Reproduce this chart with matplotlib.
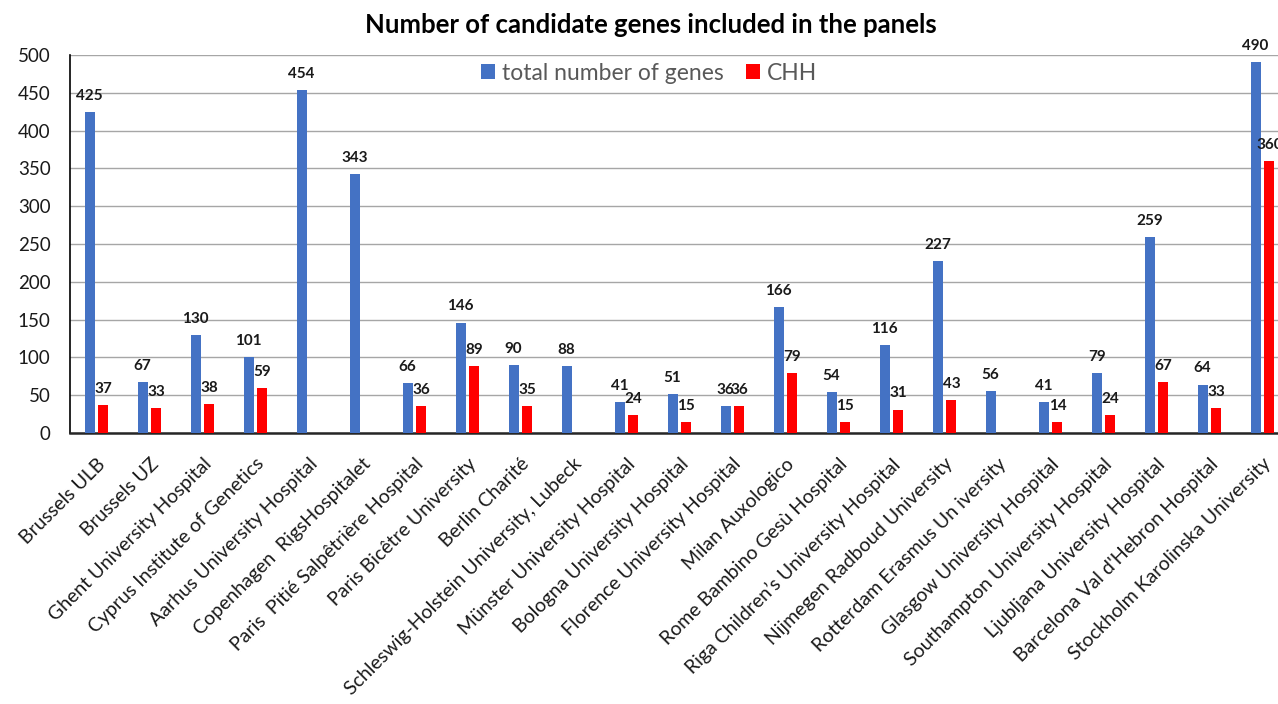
import matplotlib
matplotlib.use('Agg')
import matplotlib.pyplot as plt
import numpy as np

plt.rcParams['font.family'] = ['Lato', 'DejaVu Sans']

# Daten
sites = ['Brussels ULB', 'Brussels UZ', 'Ghent University Hospital',
         'Cyprus Institute of Genetics', 'Aarhus University Hospital',
         'Copenhagen  RigsHospitalet', 'Paris  Pitié Salpêtrière Hospital',
         'Paris Bicêtre University', 'Berlin Charité',
         'Schleswig-Holstein University, Lubeck', 'Münster University Hospital',
         'Bologna University Hospital', 'Florence University Hospital',
         'Milan Auxologico', 'Rome Bambino Gesù Hospital',
         'Riga Children’s University Hospital', 'Nijmegen Radboud University',
         'Rotterdam Erasmus Un iversity', 'Glasgow University Hospital',
         'Southampton University Hospital', 'Ljubljana University Hospital',
         "Barcelona Val d'Hebron Hospital", 'Stockholm Karolinska University']
total_genes = [425, 67, 130, 101, 454, 343, 66, 146, 90, 88, 41, 51, 36,
               166, 54, 116, 227, 56, 41, 79, 259, 64, 490]
chh_genes = [37, 33, 38, 59, None, None, 36, 89, 35, None, 24, 15, 36,
             79, 15, 31, 43, None, 14, 24, 67, 33, 360]

blue = '#4472C4'
red = '#FF0000'

fig = plt.figure(figsize=(12.78, 7.04), dpi=100)
ax = fig.add_axes([70 / 1278, 0.385, 1219 / 1278, 0.537])

x = np.arange(len(sites))
w = 0.19
chh = np.array([np.nan if v is None else v for v in chh_genes], dtype=float)

ax.bar(x - 0.13, total_genes, w, color=blue, label='total number of genes', zorder=3)
ax.bar(x + 0.13, chh, w, color=red, label='CHH', zorder=3)

# Beschriftungen der Balken
for xi, v in zip(x, total_genes):
    ax.text(xi - 0.13, v + 12, str(v), ha='center', va='bottom',
            fontsize=11, fontweight='bold', color='#1a1a1a')
for xi, v in zip(x, chh_genes):
    if v is not None:
        ax.text(xi + 0.13, v + 12, str(v), ha='center', va='bottom',
                fontsize=11, fontweight='bold', color='#1a1a1a')

ax.set_ylim(0, 500)
ax.set_xlim(-0.5, len(sites) - 0.5)
ax.set_yticks(np.arange(0, 501, 50))
ax.yaxis.grid(True, color='#A6A6A6', linewidth=1, zorder=0)
ax.set_axisbelow(True)

for s in ['top', 'right']:
    ax.spines[s].set_visible(False)
ax.spines['left'].set_color('black')
ax.spines['bottom'].set_color('#262626')
ax.spines['bottom'].set_linewidth(1.8)
ax.spines['left'].set_linewidth(1.2)

ax.set_xticks(x)
ax.set_xticklabels(sites, rotation=45, ha='right', rotation_mode='anchor',
                   fontsize=14, color='#1a1a1a')
ax.tick_params(axis='x', length=0, pad=16)
ax.tick_params(axis='y', length=0, labelsize=13.5, labelcolor='#1a1a1a', pad=14)

ax.legend(loc='center', bbox_to_anchor=(0.475, 0.952), ncol=2, frameon=False,
          fontsize=16.5, handlelength=0.6, handleheight=0.6, handletextpad=0.3,
          columnspacing=1.0, labelcolor='#595959')

fig.text(0.509, 0.964, 'Number of candidate genes included in the panels',
         ha='center', va='center', fontsize=18.5, fontweight='bold')

fig.savefig('out.png', dpi=100)
